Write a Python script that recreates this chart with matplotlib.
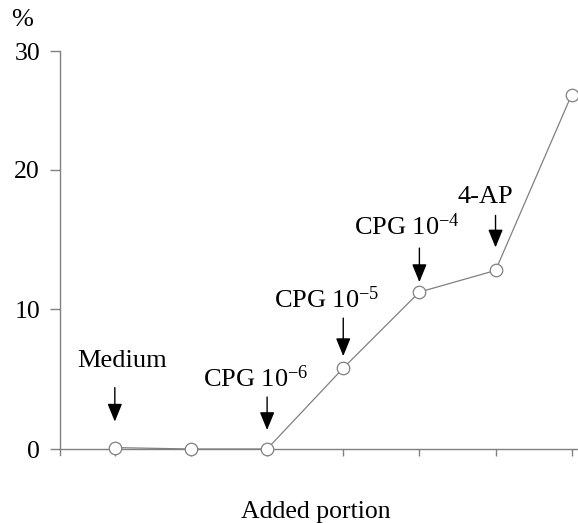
import matplotlib
matplotlib.use("Agg")
import matplotlib.pyplot as plt

plt.rcParams['font.family'] = ['Liberation Serif', 'DejaVu Serif']
plt.rcParams['mathtext.fontset'] = 'custom'
plt.rcParams['mathtext.rm'] = 'Liberation Serif'
plt.rcParams['mathtext.it'] = 'Liberation Serif:italic'

# data
steps = [1, 2, 3, 4, 5, 6, 7]
values = [0.1, 0.0, 0.0, 5.8, 11.25, 12.8, 25.4]
ytick_pos = [0, 10, 20, 28.5]
ytick_labels = ["0", "10", "20", "30"]
ann_labels = ["Medium", r"CPG 10$^{-6}$", r"CPG 10$^{-5}$", r"CPG 10$^{-4}$", "4-AP"]
ann_steps = [1, 3, 4, 5, 6]
ann_values = [0.1, 0.0, 5.8, 11.25, 12.8]

DPI = 100
PT = 72 / DPI  # points per pixel

fig = plt.figure(figsize=(5.78, 5.23), dpi=DPI)
ax = fig.add_axes([60/578, 68/523, 517/578, 404/523])

gray = '#808080'
ax.plot(steps, values, color=gray, lw=0.9, marker='o', ms=9,
        mfc='white', mec=gray, mew=0.9, zorder=3, clip_on=False)

ax.set_xlim(0.28, 7.07)
ax.set_ylim(-0.43, 28.53)
ax.spines['top'].set_visible(False)
ax.spines['right'].set_visible(False)
ax.spines['bottom'].set_position(('data', 0))
for s in ('left', 'bottom'):
    ax.spines[s].set_color(gray)
    ax.spines[s].set_linewidth(1.0)

ax.set_xticks(steps)
ax.set_xticklabels([])
ax.set_yticks(ytick_pos)
ax.set_yticklabels(ytick_labels)
ax.tick_params(axis='both', colors=gray, width=1.0, labelsize=18.5,
               labelcolor='black')
ax.tick_params(axis='y', length=10 * PT, pad=10 * PT)
ax.tick_params(axis='x', length=7 * PT)

# annotation layout (pixels above point / horizontal shift)
arrow_start = [60, 52, 50, 44, 55]
arrow_tip = [26, 19, 12, 10, 23]
text_up = [87, 70, 68, 65, 73]
text_dx = [7, -11, -17, -12, -10]
for lab, xs, yv, a0, a1, tu, dx in zip(ann_labels, ann_steps, ann_values,
                                       arrow_start, arrow_tip, text_up, text_dx):
    ax.annotate('', xy=(xs, yv), xytext=(0, a0 * PT), textcoords='offset points',
                arrowprops=dict(arrowstyle='-|>,head_length=1.1,head_width=0.45',
                                color='black', lw=1.0, shrinkA=0, shrinkB=a1 * PT))
    ax.annotate(lab, xy=(xs, yv), xytext=(dx * PT, tu * PT), textcoords='offset points',
                ha='center', va='center', fontsize=19)

fig.text(22/578, 1 - 20/523, '%', ha='center', va='center', fontsize=19)
fig.text(316/578, 1 - 512/523, 'Added portion', ha='center', va='center', fontsize=18.5)

fig.savefig('out.png', dpi=DPI)
